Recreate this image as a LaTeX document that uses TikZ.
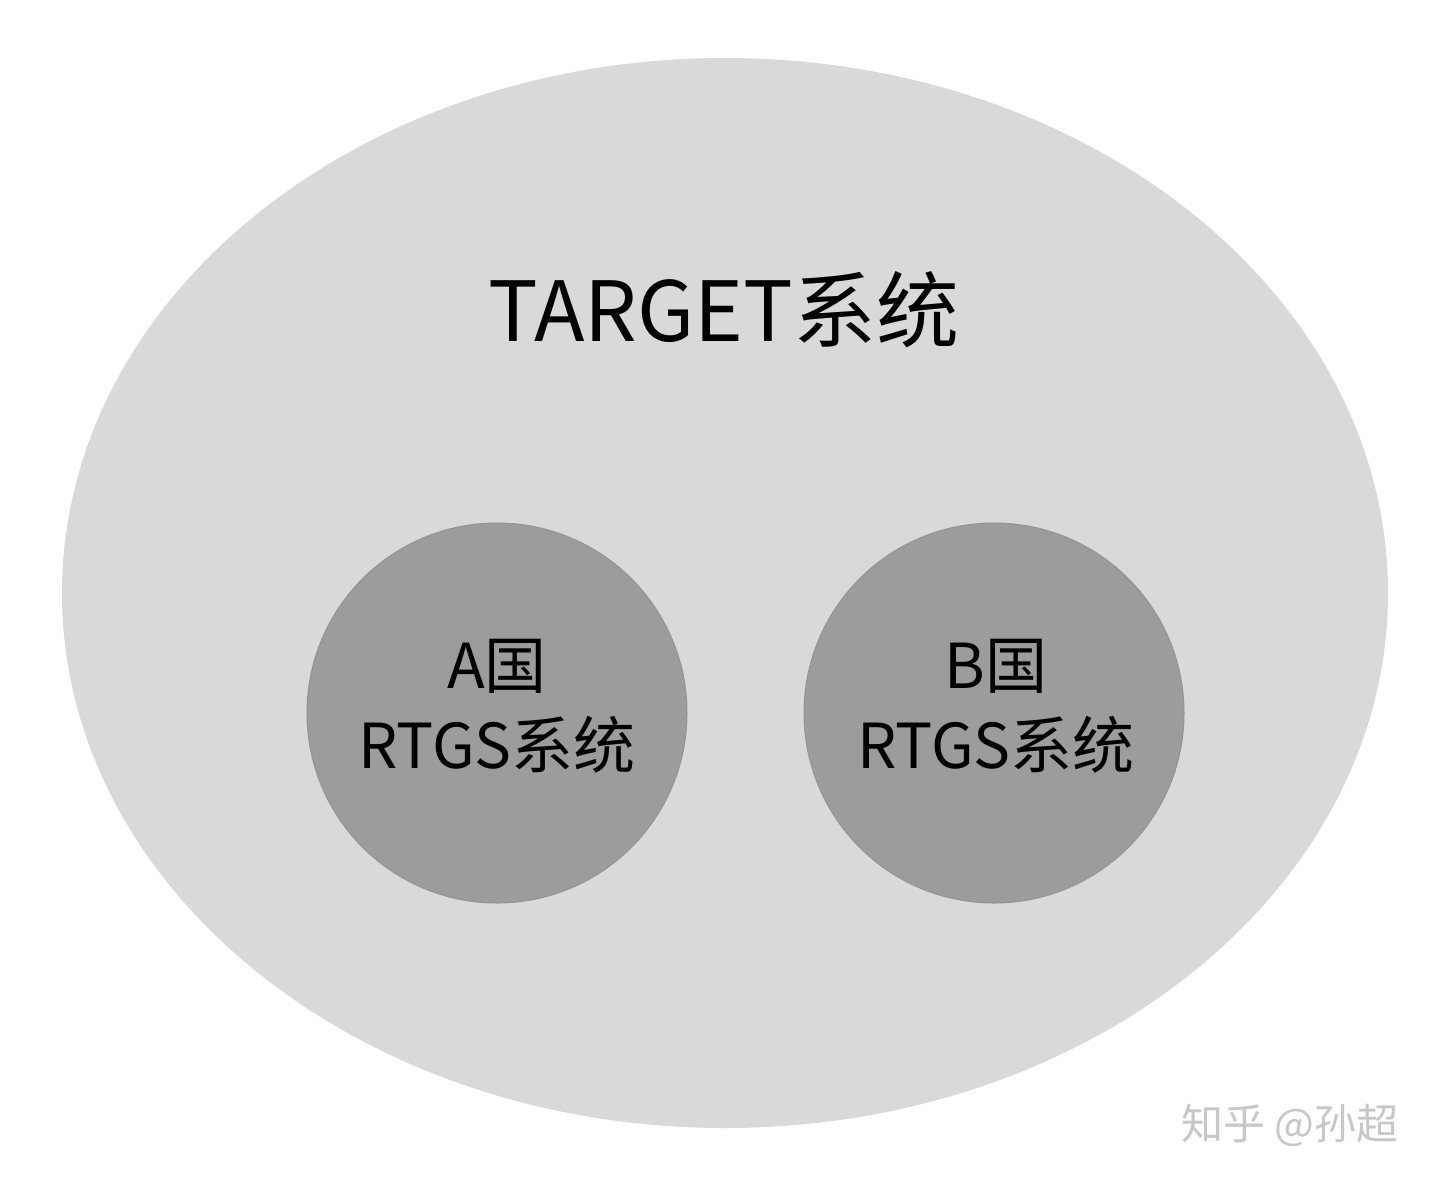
\documentclass[tikz,border=0pt]{standalone}
\usepackage{fontspec}
\setmainfont{Noto Sans CJK SC}
\usetikzlibrary{shapes.geometric}
\begin{document}
\begin{tikzpicture}[x=1pt,y=-1pt,
  inner/.style={circle,fill=black!39,draw=black!42,line width=1pt,minimum size=380pt,inner sep=0pt},
  lbl/.style={align=center,font=\fontsize{62}{80}\selectfont}]
\useasboundingbox (0,0) rectangle (1440,1187);
\fill[white] (0,0) rectangle (1440,1187);
\node[ellipse,fill=black!15,minimum width=1326pt,minimum height=1070pt,inner sep=0pt] (outer) at (725,593) {};
\node[font=\fontsize{83}{90}\selectfont] (title) at (724,310) {TARGET系统};
\node[inner] (a) at (497,713) {};
\node[inner] (b) at (994,713) {};
\node[lbl] (at) at (497,703) {\strut A国\\RTGS系统};
\node[lbl] (bt) at (996,703) {\strut B国\\RTGS系统};
\node[font=\fontsize{42}{42}\selectfont,text=black!22] (wm) at (1290,1125) {知乎 @孙超};
\end{tikzpicture}
\end{document}
